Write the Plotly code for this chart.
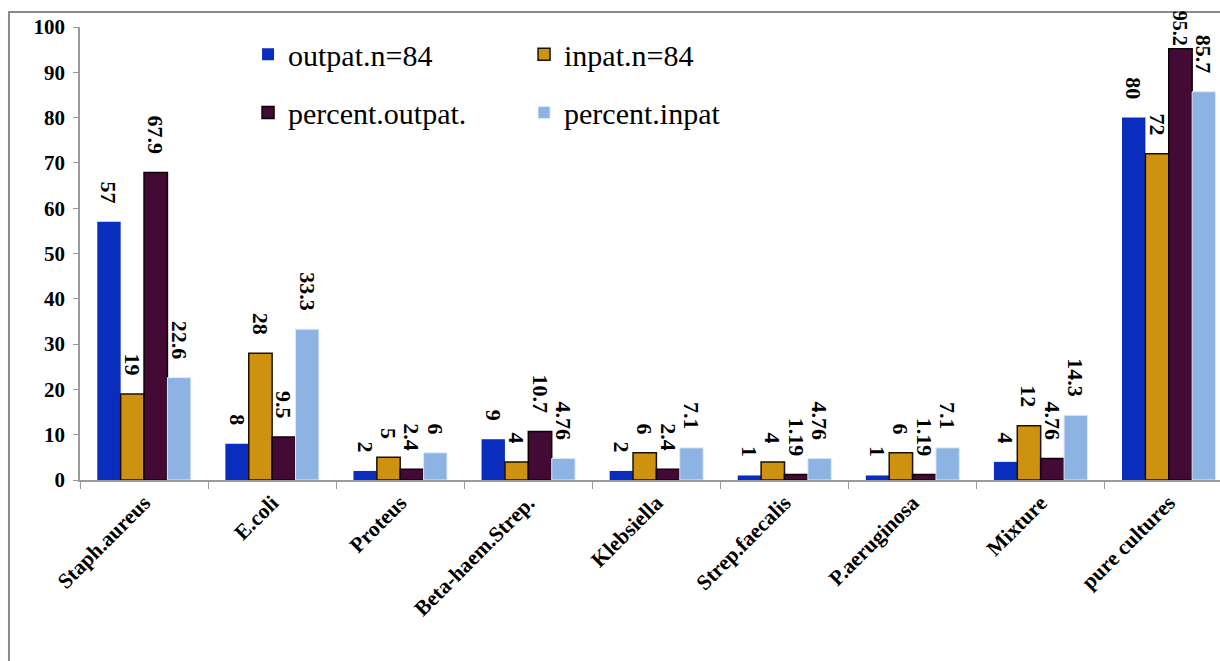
import plotly.graph_objects as go

# Isolates by category
categories = ["Staph.aureus", "E.coli", "Proteus", "Beta-haem.Strep.", "Klebsiella",
              "Strep.faecalis", "P.aeruginosa", "Mixture", "pure cultures"]

outpat_n = [57, 8, 2, 9, 2, 1, 1, 4, 80]
inpat_n = [19, 28, 5, 4, 6, 4, 6, 12, 72]
percent_outpat = [67.9, 9.5, 2.4, 10.7, 2.4, 1.19, 1.19, 4.76, 95.2]
percent_inpat = [22.6, 33.3, 6, 4.76, 7.1, 4.76, 7.1, 14.3, 85.7]

outpat_labels = ["57", "8", "2", "9", "2", "1", "1", "4", "80"]
inpat_labels = ["19", "28", "5", "4", "6", "4", "6", "12", "72"]
pct_out_labels = ["67.9", "9.5", "2.4", "10.7", "2.4", "1.19", "1.19", "4.76", "95.2"]
pct_in_labels = ["22.6", "33.3", "6", "4.76", "7.1", "4.76", "7.1", "14.3", "85.7"]

y_ticks = list(range(0, 101, 10))

SERIF = "Liberation Serif"
LABEL_SIZE = 22
# trailing gap between a rotated value label and the top of its bar
GAP = "\u00a0\u00a0\u2009"

def label_texts(labels, values):
    # the tallest bar sits right under the top edge, so its label gets no gap
    top = max(values)
    return [f"<b>{t}</b>" + ("" if v >= 95 and v == top else GAP)
            for t, v in zip(labels, values)]

def label_sizes(values):
    top = max(values)
    return [20 if (v >= 95 and v == top) else LABEL_SIZE for v in values]

def series(name, values, labels, color, line_color, line_width, legend):
    return go.Bar(
        name=name, x=categories, y=values,
        text=label_texts(labels, values), texttemplate="%{text}",
        textposition="outside", textangle=90,
        textfont=dict(family=SERIF, size=label_sizes(values), color="#000000"),
        constraintext="none", cliponaxis=False,
        marker=dict(color=color, line=dict(color=line_color, width=line_width)),
        legend=legend,
    )

fig = go.Figure()
fig.add_trace(series("outpat.n=84", outpat_n, outpat_labels, "#0A2DBE", "#0A2DBE", 0, "legend"))
fig.add_trace(series("inpat.n=84", inpat_n, inpat_labels, "#CF9210", "#1a1208", 1.5, "legend"))
fig.add_trace(series("percent.outpat.", percent_outpat, pct_out_labels, "#420A34", "#0a0208", 1.5, "legend2"))
fig.add_trace(series("percent.inpat", percent_inpat, pct_in_labels, "#8DB3E2", "#dfe9f6", 1, "legend2"))

legend_common = dict(
    orientation="h", xanchor="left", yanchor="middle",
    entrywidth=231, entrywidthmode="pixels",
    font=dict(family=SERIF, size=30, color="#000000"),
    bgcolor="rgba(0,0,0,0)", itemwidth=30,
)

fig.update_layout(
    width=1220, height=661,
    margin=dict(l=80, r=0, t=27, b=181),
    paper_bgcolor="white", plot_bgcolor="white",
    barmode="group", bargap=0.27, bargroupgap=0,
    showlegend=True,
    legend=dict(x=0.1474, y=0.94, **legend_common),
    legend2=dict(x=0.1474, y=0.811, **legend_common),
    xaxis=dict(
        range=[-0.5, 8.4], showline=True, linecolor="#9a9a9a", linewidth=1.5,
        ticks="outside", tickson="boundaries", ticklen=7, tickcolor="#9a9a9a",
        tickangle=-45, showgrid=False,
        tickvals=categories, ticktext=[f"<b>{c}</b>" for c in categories],
        tickfont=dict(family=SERIF, size=21.5, color="#000000"),
    ),
    yaxis=dict(
        range=[0, 100], showline=True, linecolor="#9a9a9a", linewidth=1.5,
        ticks="outside", ticklen=5, tickcolor="#9a9a9a", showgrid=False,
        zeroline=False, ticklabelstandoff=4,
        tickvals=y_ticks, ticktext=[f"<b>{v}</b>" for v in y_ticks],
        tickfont=dict(family=SERIF, size=21, color="#000000"),
    ),
    shapes=[dict(
        type="rect", xref="paper", yref="paper",
        x0=-0.0623, x1=1.2, y0=-0.6, y1=1.0331,
        line=dict(color="#8a8a8a", width=2), fillcolor="rgba(0,0,0,0)", layer="below",
    )],
)

fig.write_html("out.html")
